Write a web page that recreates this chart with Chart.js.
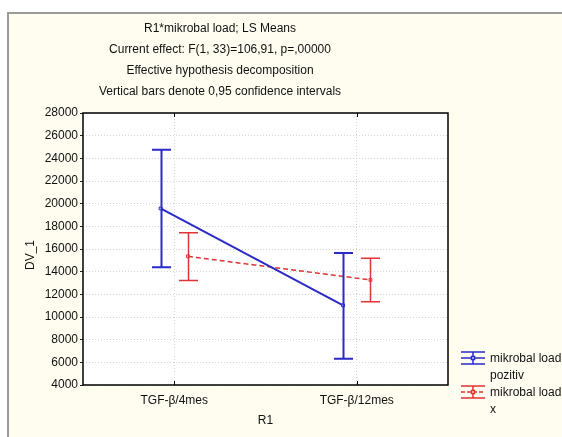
<!DOCTYPE html>
<html>
<head>
<meta charset="utf-8">
<script src="https://cdn.jsdelivr.net/npm/chart.js@4/dist/chart.umd.min.js"></script>
<style>
  html, body { margin: 0; padding: 0; background: #fff; }
  #wrap { position: absolute; left: 0; top: 0; width: 562px; height: 437px; }
</style>
</head>
<body>
<div id="wrap"><canvas id="c" width="562" height="437"></canvas></div>
<script>
// LS means with 0.95 confidence intervals
const categories = ['TGF-β/4mes', 'TGF-β/12mes'];
const seriesNames = [['mikrobal load', 'pozitiv'], ['mikrobal load', 'x']];
const blueMean = [19580, 11030];
const blueLow = [14400, 6320];
const blueHigh = [24750, 15650];
const redMean = [15350, 13270];
const redLow = [13220, 11350];
const redHigh = [17440, 15180];
const yTicks = [4000, 6000, 8000, 10000, 12000, 14000, 16000, 18000, 20000, 22000, 24000, 26000, 28000];
const titleLines = [
  'R1*mikrobal load; LS Means',
  'Current effect: F(1, 33)=106,91, p=,00000',
  'Effective hypothesis decomposition',
  'Vertical bars denote 0,95 confidence intervals'
];

const BLUE = '#2a2ac8';
const RED = '#e03434';
const SHIFT = 0.075; // horizontal dodge of the two series
const FONT = '"Liberation Sans", Arial, sans-serif';

const pts = (means, dir) => means.map((v, i) => ({ x: i + 1 + dir * SHIFT, y: v }));

const decor = {
  id: 'decor',
  beforeDraw(chart) {
    const { ctx, width, height } = chart;
    ctx.save();
    ctx.fillStyle = '#fff';
    ctx.fillRect(0, 0, width, height);
    ctx.fillStyle = '#fffcf0';
    ctx.fillRect(8, 13, width, height);
    ctx.strokeStyle = '#9a9a96';
    ctx.lineWidth = 2;
    ctx.beginPath();
    ctx.moveTo(8, height); ctx.lineTo(8, 13); ctx.lineTo(width, 13);
    ctx.stroke();
    const a = chart.chartArea;
    ctx.fillStyle = '#fff';
    ctx.fillRect(a.left, a.top, a.right - a.left, a.bottom - a.top);
    ctx.restore();
  },
  afterDatasetsDraw(chart) {
    const { ctx } = chart;
    const xs = chart.scales.x, ys = chart.scales.y;
    const a = chart.chartArea;
    ctx.save();
    // error bars
    const groups = [
      { mean: blueMean, lo: blueLow, hi: blueHigh, dir: -1, color: BLUE, w: 2 },
      { mean: redMean, lo: redLow, hi: redHigh, dir: 1, color: RED, w: 1.5 }
    ];
    groups.forEach(g => {
      ctx.strokeStyle = g.color;
      ctx.lineWidth = g.w;
      g.mean.forEach((m, i) => {
        const px = Math.round(xs.getPixelForValue(i + 1 + g.dir * SHIFT)) + 0.5;
        const top = ys.getPixelForValue(g.hi[i]);
        const bot = ys.getPixelForValue(g.lo[i]);
        ctx.beginPath();
        ctx.moveTo(px, top); ctx.lineTo(px, bot);
        ctx.moveTo(px - 9.5, top); ctx.lineTo(px + 9.5, top);
        ctx.moveTo(px - 9.5, bot); ctx.lineTo(px + 9.5, bot);
        ctx.stroke();
      });
    });
    // plot frame
    ctx.strokeStyle = '#000';
    ctx.lineWidth = 1.5;
    ctx.strokeRect(a.left, a.top, a.right - a.left, a.bottom - a.top);
    // inner x tick marks
    ctx.lineWidth = 1;
    categories.forEach((c, i) => {
      const px = Math.round(xs.getPixelForValue(i + 1)) + 0.5;
      ctx.beginPath();
      ctx.moveTo(px, a.bottom); ctx.lineTo(px, a.bottom - 4);
      ctx.moveTo(px, a.top); ctx.lineTo(px, a.top + 4);
      ctx.stroke();
    });
    // titles
    ctx.fillStyle = '#111';
    ctx.font = '12px ' + FONT;
    ctx.textAlign = 'center';
    ctx.textBaseline = 'middle';
    titleLines.forEach((t, i) => ctx.fillText(t, 220, 29 + i * 21));
    // axis titles
    ctx.fillText('R1', (a.left + a.right) / 2, 421);
    ctx.save();
    ctx.translate(31, 255);
    ctx.rotate(-Math.PI / 2);
    ctx.fillText('DV_1', 0, 0);
    ctx.restore();
    // legend
    ctx.textAlign = 'left';
    [BLUE, RED].forEach((col, k) => {
      const cy = 358 + k * 34;
      const cx = 473;
      ctx.strokeStyle = col;
      ctx.lineWidth = 1.5;
      ctx.beginPath();
      ctx.moveTo(cx - 12, cy - 6); ctx.lineTo(cx + 12, cy - 6);
      ctx.moveTo(cx - 12, cy + 6); ctx.lineTo(cx + 12, cy + 6);
      ctx.moveTo(cx, cy - 6); ctx.lineTo(cx, cy + 6);
      ctx.stroke();
      ctx.setLineDash(k ? [4, 2] : []);
      ctx.beginPath();
      ctx.moveTo(cx - 12, cy); ctx.lineTo(cx + 12, cy);
      ctx.stroke();
      ctx.setLineDash([]);
      ctx.fillStyle = '#fff';
      ctx.fillRect(cx - 1.5, cy - 1.5, 3, 3);
      ctx.strokeRect(cx - 1.5, cy - 1.5, 3, 3);
      ctx.fillStyle = '#111';
      ctx.fillText(seriesNames[k][0], 490, cy + 1);
      ctx.fillText(seriesNames[k][1], 490, cy + 18);
    });
    ctx.restore();
  }
};

new Chart(document.getElementById('c'), {
  type: 'line',
  data: {
    datasets: [
      {
        label: seriesNames[0].join(' '),
        data: pts(blueMean, -1),
        borderColor: BLUE, borderWidth: 2,
        pointStyle: 'rect', pointRadius: 2, pointBackgroundColor: '#fff',
        pointBorderColor: BLUE, pointBorderWidth: 1
      },
      {
        label: seriesNames[1].join(' '),
        data: pts(redMean, 1),
        borderColor: RED, borderWidth: 1.5, borderDash: [5, 3],
        pointStyle: 'rect', pointRadius: 2, pointBackgroundColor: '#fff',
        pointBorderColor: RED, pointBorderWidth: 1
      }
    ]
  },
  options: {
    responsive: false,
    animation: false,
    layout: { padding: { top: 113, right: 114, left: 0, bottom: 0 } },
    plugins: { legend: { display: false }, tooltip: { enabled: false } },
    scales: {
      x: {
        type: 'linear', min: 0.5, max: 2.5,
        afterBuildTicks: s => { s.ticks = categories.map((c, i) => ({ value: i + 1 })); },
        afterFit: s => { s.height = 52; },
        ticks: {
          callback: v => categories[v - 1],
          color: '#111', font: { family: FONT, size: 12 }, padding: 8, maxRotation: 0
        },
        grid: { color: '#d4d4d4', drawTicks: false },
        border: { display: false, dash: [1, 2] }
      },
      y: {
        min: 4000, max: 28000,
        afterBuildTicks: s => { s.ticks = yTicks.map(v => ({ value: v })); },
        afterFit: s => { s.width = 83; },
        ticks: { color: '#111', font: { family: FONT, size: 12 }, padding: 2, callback: v => String(v) },
        grid: { color: '#d4d4d4', tickColor: '#222', tickLength: 3 },
        border: { display: false, dash: [1, 2] }
      }
    }
  },
  plugins: [decor]
});
</script>
</body>
</html>
